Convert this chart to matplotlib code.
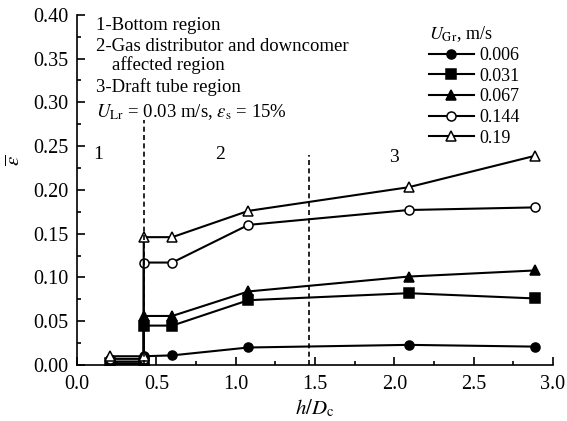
import matplotlib.pyplot as plt
import numpy as np

plt.rcParams['font.family'] = ['Liberation Serif', 'DejaVu Serif']
plt.rcParams['mathtext.fontset'] = 'stix'

# h/Dc positions; 0.42 appears twice (jump across the bottom-region boundary)
h_dc = [0.21, 0.42, 0.42, 0.60, 1.08, 2.09, 2.89]

u_gr_labels = ['0.006', '0.031', '0.067', '0.144', '0.19']
eps_0006 = [0.001, 0.001, 0.010, 0.011, 0.020, 0.023, 0.021]
eps_0031 = [0.002, 0.002, 0.045, 0.045, 0.074, 0.082, 0.076]
eps_0067 = [0.004, 0.004, 0.056, 0.056, 0.084, 0.101, 0.108]
eps_0144 = [0.007, 0.007, 0.117, 0.117, 0.160, 0.177, 0.180]
eps_019 = [0.010, 0.010, 0.146, 0.146, 0.176, 0.203, 0.239]

series = [eps_0006, eps_0031, eps_0067, eps_0144, eps_019]
markers = ['o', 's', '^', 'o', '^']
fills = ['k', 'k', 'k', 'white', 'white']

fig = plt.figure(figsize=(5.67, 4.21), dpi=100)
ax = fig.add_axes([0.136, 0.133, 0.839, 0.832])

for eps, lab, m, fc in zip(series, u_gr_labels, markers, fills):
    ax.plot(h_dc, eps, color='k', lw=1.5, marker=m, ms=6.5,
            mfc=fc, mec='k', mew=1.1, label=lab)

# region boundaries
ax.vlines(0.42, 0, 0.28, colors='k', linestyles=(0, (3, 2)), lw=1.2)
ax.vlines(1.46, 0, 0.24, colors='k', linestyles=(0, (3, 2)), lw=1.2)

ax.text(0.13, 0.235, '1', fontsize=14, ha='center')
ax.text(0.90, 0.235, '2', fontsize=14, ha='center')
ax.text(2.00, 0.232, '3', fontsize=14, ha='center')

fs = 13.5
ax.text(0.12, 0.388, '1-Bottom region', fontsize=fs, va='center')
ax.text(0.12, 0.364, '2-Gas distributor and downcomer', fontsize=fs, va='center')
ax.text(0.22, 0.343, 'affected region', fontsize=fs, va='center')
ax.text(0.12, 0.317, '3-Draft tube region', fontsize=fs, va='center')
ax.text(0.12, 0.289, r'$U_{\rm Lr}$ = 0.03 m/s, $\varepsilon_{\rm s}$ = 15%',
        fontsize=fs, va='center')

leg = ax.legend(title=r'$U_{\rm Gr}$, m/s', loc='upper left',
                bbox_to_anchor=(0.72, 1.0), frameon=False, fontsize=13,
                title_fontsize=13, handlelength=2.5, handletextpad=0.3,
                labelspacing=0.2, borderaxespad=0.1)
leg._legend_box.align = 'left'

ax.set_xlim(0, 3.0)
ax.set_ylim(0, 0.40)
ax.set_xticks(np.arange(0, 3.01, 0.5))
ax.set_xticks(np.arange(0, 3.01, 0.25), minor=True)
ax.set_yticks(np.arange(0, 0.401, 0.05))
ax.set_yticks(np.arange(0, 0.401, 0.025), minor=True)
ax.xaxis.set_major_formatter(plt.FormatStrFormatter('%.1f'))
ax.yaxis.set_major_formatter(plt.FormatStrFormatter('%.2f'))
ax.tick_params(which='both', direction='in', labelsize=14.5, width=1.2)
ax.tick_params(axis='y', which='major', pad=6)
ax.tick_params(axis='x', which='major', pad=7)
ax.tick_params(which='major', length=6)
ax.tick_params(which='minor', length=3)
ax.spines['top'].set_visible(False)
ax.spines['right'].set_visible(False)
for s in ('left', 'bottom'):
    ax.spines[s].set_linewidth(1.2)

ax.set_xlabel(r'$h/D_{\rm c}$', fontsize=15, labelpad=3)
ax.set_ylabel(r'$\overline{\varepsilon}$', fontsize=15)
ax.yaxis.set_label_coords(-0.11, 0.585)

fig.savefig('out.png', dpi=100)
